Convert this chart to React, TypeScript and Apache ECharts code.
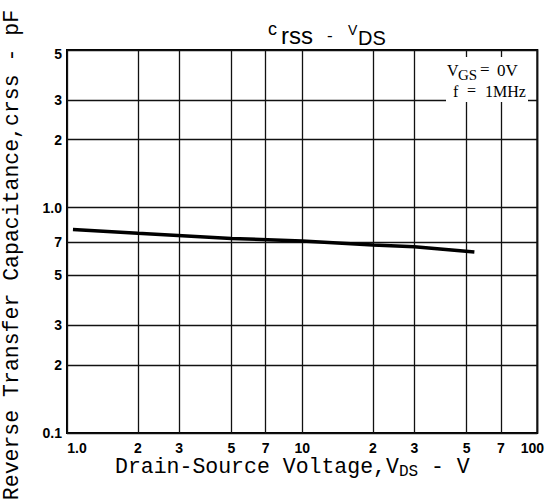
import React, { useEffect, useRef } from "react";
import * as echarts from "echarts";

const vdsValues = [1.06, 2, 5, 10, 20, 30, 54];
const crssValues = [0.8, 0.77, 0.73, 0.71, 0.683, 0.67, 0.635];
const xTickValues = [1, 2, 3, 5, 7, 10, 20, 30, 50, 70, 100];
const xTickLabels = ["1.0", "2", "3", "5", "7", "10", "2", "3", "5", "7", "100"];
const yTickValues = [0.1, 0.2, 0.3, 0.5, 0.7, 1, 2, 3, 5];
const yTickLabels = ["0.1", "2", "3", "5", "7", "1.0", "2", "3", "5"];

const lg = (v: number) => Math.log10(v);

function findLabel(vals: number[], labels: string[], v: number) {
  const i = vals.findIndex((t) => Math.abs(lg(t) - v) < 1e-6);
  return i >= 0 ? labels[i] : "";
}

const MONO = '"Liberation Mono", "DejaVu Sans Mono", monospace';
const SANS = '"Liberation Sans", Arial, sans-serif';
const SERIF = '"Liberation Serif", "DejaVu Serif", serif';

export default function App() {
  const ref = useRef<HTMLDivElement>(null);
  useEffect(() => {
    if (!ref.current) return;
    const chart = echarts.init(ref.current, undefined, { renderer: "svg" });
    const tickLabelStyle = {
      fontFamily: SANS,
      fontWeight: "bold" as const,
      fontSize: 14,
      color: "#000",
    };
    chart.setOption({
      animation: false,
      backgroundColor: "#fff",
      grid: {
        left: 67,
        right: 6,
        top: 50,
        bottom: 68,
        show: true,
        borderColor: "#000",
        borderWidth: 2,
        backgroundColor: "#fff",
      },
      xAxis: {
        type: "value",
        min: 0,
        max: 2,
        axisLine: { show: false },
        axisTick: { show: false, customValues: xTickValues.map(lg) },
        splitLine: { show: true, lineStyle: { color: "#111", width: 1.3 } },
        axisLabel: {
          customValues: xTickValues.map(lg),
          margin: 8,
          ...tickLabelStyle,
          formatter: (v: number) => {
            const s = findLabel(xTickValues, xTickLabels, v);
            if (s === "1.0") return "{l|" + s + "}";
            if (s === "100") return "{r|" + s + "}";
            return s;
          },
          rich: {
            l: { ...tickLabelStyle, padding: [0, 0, 0, 20] },
            r: { ...tickLabelStyle, padding: [0, 10, 0, 0] },
          },
        },
      },
      yAxis: {
        type: "value",
        min: lg(0.1),
        max: lg(5),
        axisLine: { show: false },
        axisTick: { show: false, customValues: yTickValues.map(lg) },
        splitLine: { show: true, lineStyle: { color: "#111", width: 1.3 } },
        axisLabel: {
          customValues: yTickValues.map(lg),
          margin: 5,
          ...tickLabelStyle,
          formatter: (v: number) => {
            const s = findLabel(yTickValues, yTickLabels, v);
            if (Math.abs(v - lg(5)) < 1e-6) return "{t|" + s + "}";
            return s;
          },
          rich: {
            t: { ...tickLabelStyle, padding: [8, 0, 0, 0] },
          },
        },
      },
      series: [
        {
          type: "line",
          data: vdsValues.map((x, i) => [lg(x), lg(crssValues[i])]),
          showSymbol: false,
          symbol: "none",
          lineStyle: { color: "#000", width: 3.5 },
          z: 10,
        },
      ],
      graphic: [
        // title
        { type: "text", x: 268, y: 29, z: 100, style: { text: "c", font: "18px " + SANS, fill: "#000", verticalAlign: "middle" } },
        { type: "text", x: 281, y: 35.6, z: 100, style: { text: "rss", font: "24px " + SANS, fill: "#000", verticalAlign: "middle" } },
        { type: "text", x: 327, y: 35, z: 100, style: { text: "-", font: "17px " + SANS, fill: "#000", verticalAlign: "middle" } },
        { type: "text", x: 348, y: 29.5, z: 100, style: { text: "V", font: "14px " + SANS, fill: "#000", verticalAlign: "middle" } },
        { type: "text", x: 358, y: 38, z: 100, style: { text: "DS", font: "20px " + SANS, fill: "#000", verticalAlign: "middle" } },
        // condition box
        { type: "rect", z: 100, shape: { x: 446, y: 57, width: 82, height: 45 }, style: { fill: "#fff" } },
        { type: "text", x: 447, y: 70, z: 101, style: { text: "V", font: "16px " + SERIF, fill: "#000", verticalAlign: "middle" } },
        { type: "text", x: 458, y: 75, z: 101, style: { text: "GS", font: "15px " + SERIF, fill: "#000", verticalAlign: "middle" } },
        { type: "text", x: 480, y: 69, z: 101, style: { text: "=", font: "17px " + SERIF, fill: "#000", verticalAlign: "middle" } },
        { type: "text", x: 497, y: 70, z: 101, style: { text: "0V", font: "17px " + SERIF, fill: "#000", verticalAlign: "middle" } },
        { type: "text", x: 453, y: 91, z: 101, style: { text: "f", font: "16px " + SERIF, fill: "#000", verticalAlign: "middle" } },
        { type: "text", x: 467, y: 90, z: 101, style: { text: "=", font: "16px " + SERIF, fill: "#000", verticalAlign: "middle" } },
        { type: "text", x: 485, y: 91, z: 101, style: { text: "1MHz", font: "16px " + SERIF, fill: "#000", verticalAlign: "middle" } },
        // x axis title
        { type: "text", x: 115, y: 467, z: 100, style: { text: "Drain-Source Voltage,V", font: "21.5px " + MONO, fill: "#000", verticalAlign: "middle" } },
        { type: "text", x: 399, y: 471.5, z: 100, style: { text: "DS", font: "16px " + MONO, fill: "#000", verticalAlign: "middle" } },
        { type: "text", x: 418, y: 467, z: 100, style: { text: " - V", font: "21.5px " + MONO, fill: "#000", verticalAlign: "middle" } },
        // y axis title
        {
          type: "text",
          x: 12,
          y: 255,
          rotation: Math.PI / 2,
          z: 100,
          style: {
            text: "Reverse Transfer Capacitance,crss - pF",
            font: "21.5px " + MONO,
            fill: "#000",
            align: "center",
            verticalAlign: "middle",
          },
        },
      ],
    });
    return () => chart.dispose();
  }, []);
  return (
    <div
      ref={ref}
      style={{ position: "fixed", left: 0, top: 0, width: 547, height: 501, background: "#fff" }}
    />
  );
}
